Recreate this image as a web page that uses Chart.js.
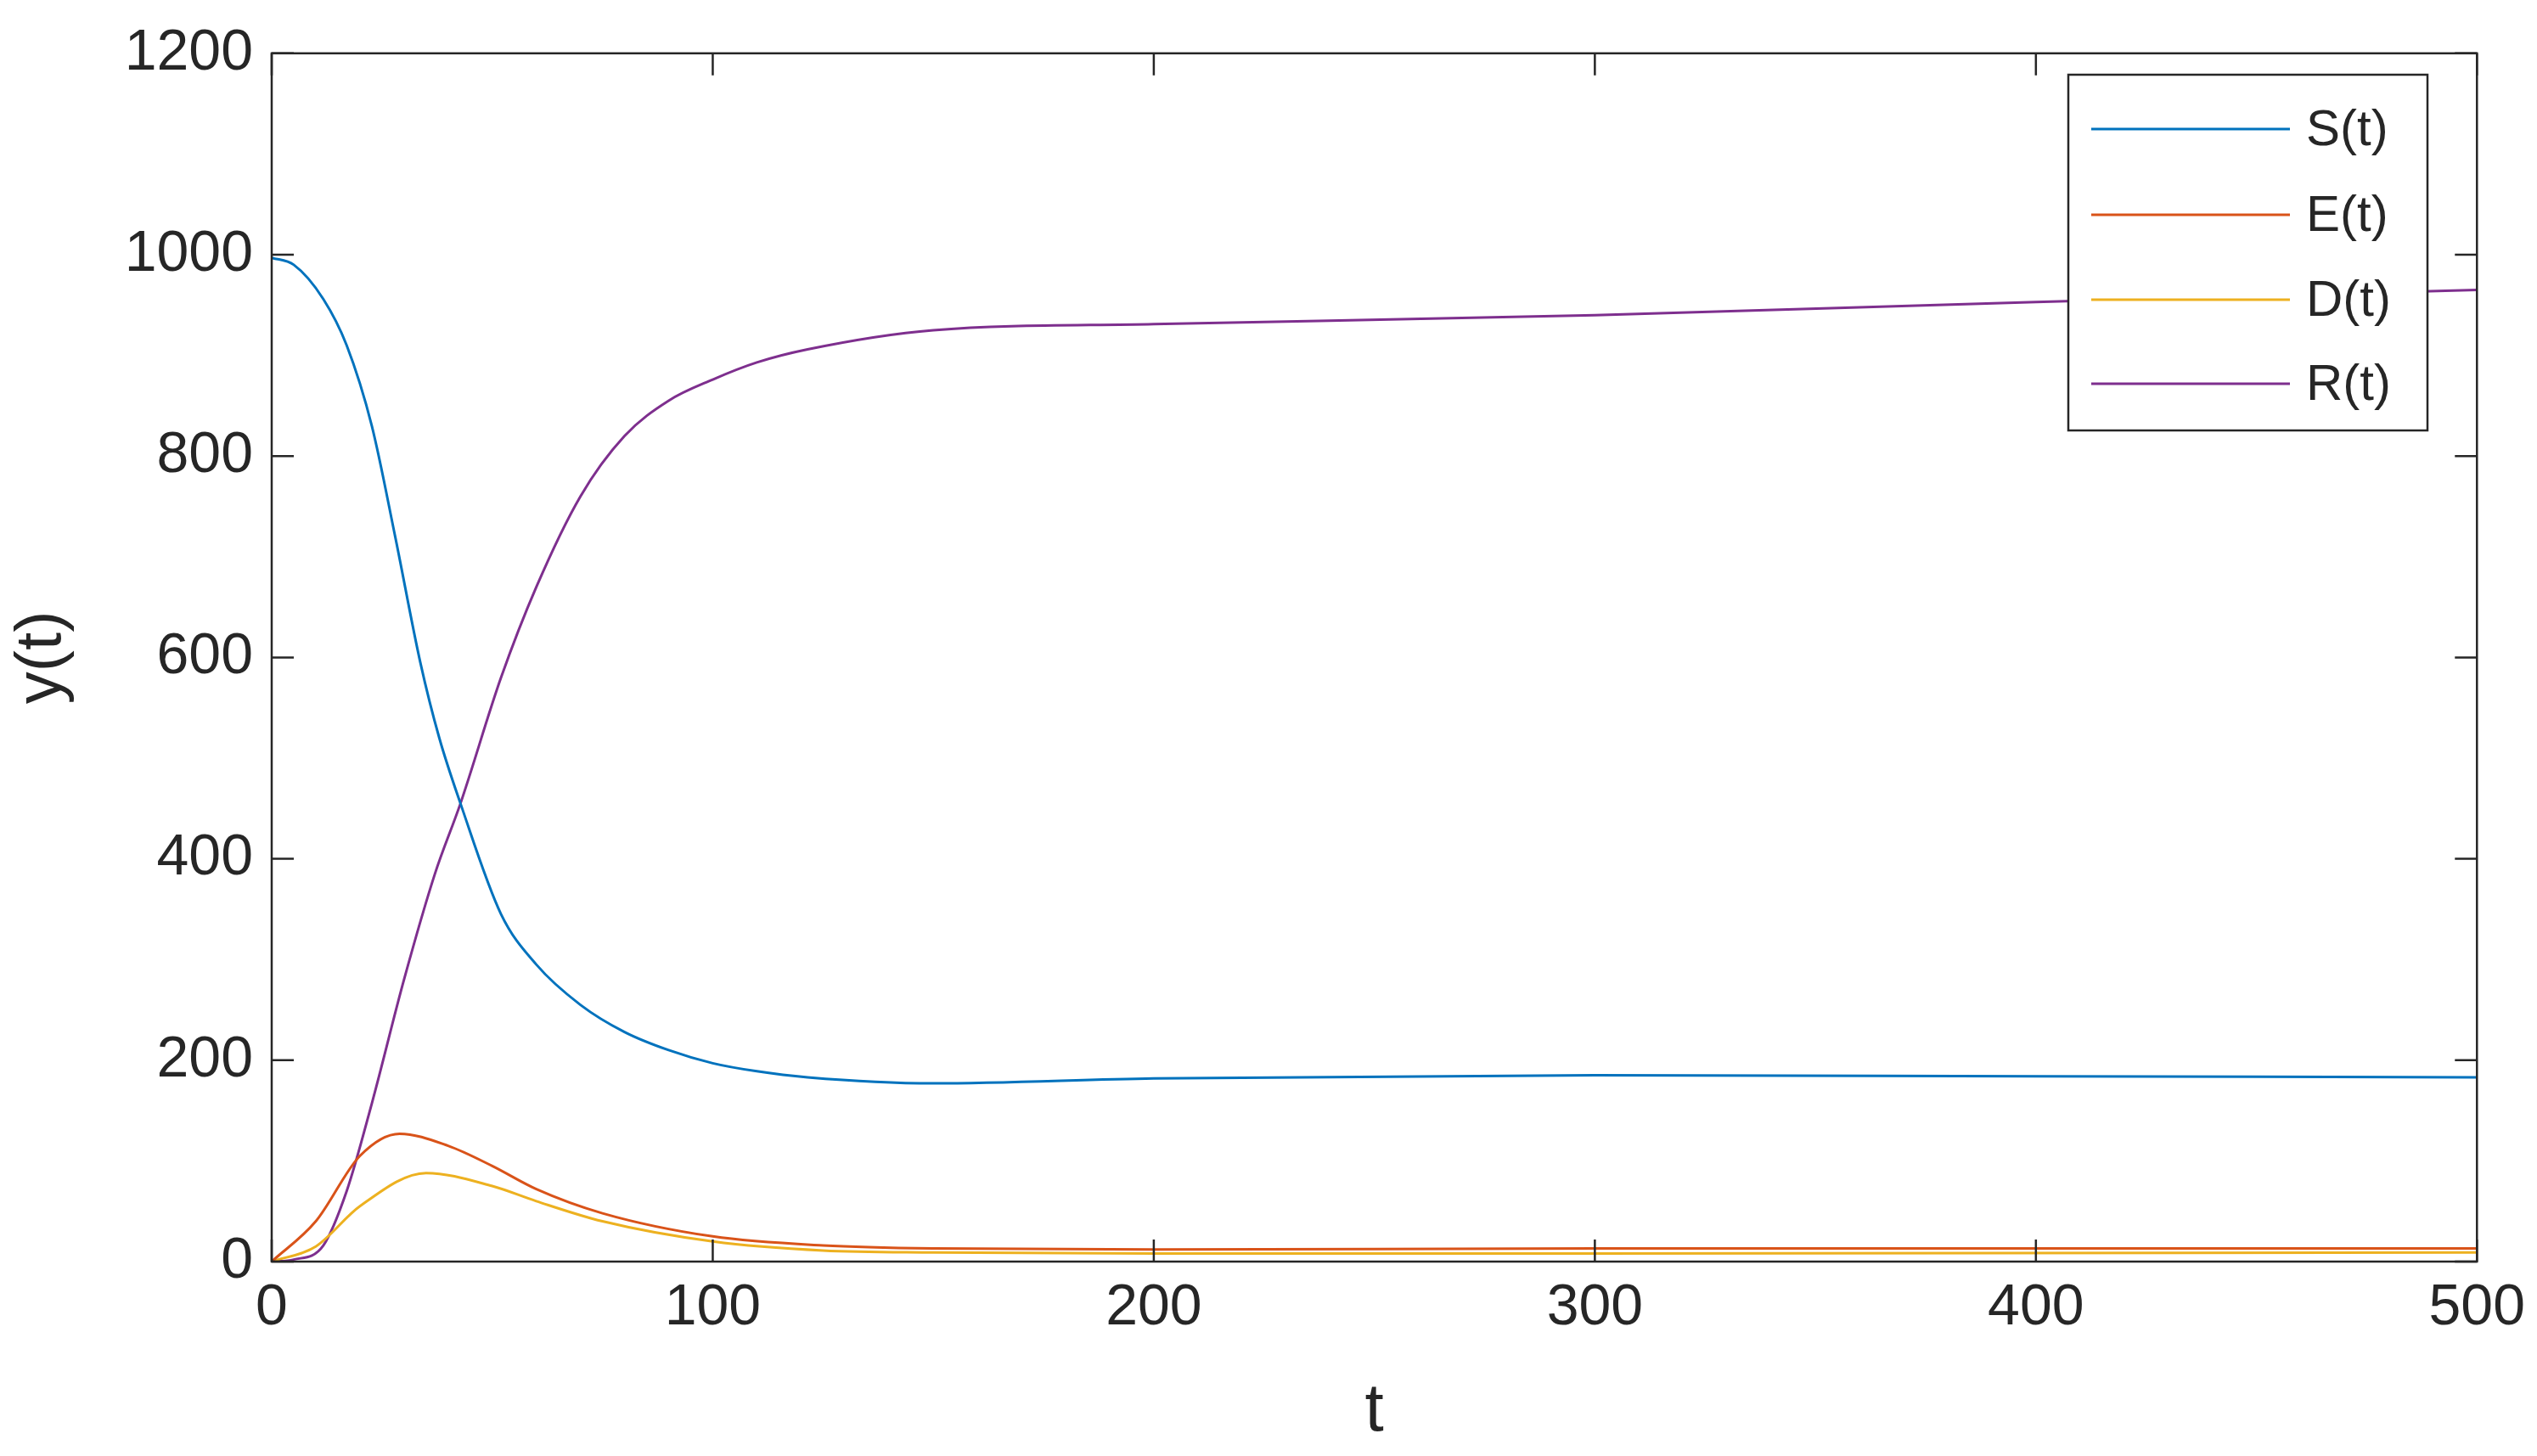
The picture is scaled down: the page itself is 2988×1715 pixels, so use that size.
<!DOCTYPE html>
<html>
<head>
<meta charset="utf-8">
<script src="https://cdn.jsdelivr.net/npm/chart.js@4/dist/chart.umd.min.js"></script>
<style>
  body { margin: 0; background: #fff; }
  #wrap { width: 2988px; height: 1715px; }
</style>
</head>
<body>
<div id="wrap"><canvas id="canvas"></canvas></div>
<script>
// SEDR model curves
var tS = [0, 5, 11.7, 17, 22.7, 28, 33.7, 38, 42.8, 52, 60, 70, 80, 90, 100, 110, 121.5, 150, 200, 300, 400, 500];
var S  = [997, 990, 956, 910, 830, 720, 595, 520, 455, 345, 295, 255, 228, 210, 197, 189, 183, 177, 182, 185, 184, 183];

var tR = [0, 5, 11.7, 17, 22.7, 30, 37, 42.8, 52, 60, 70, 80, 90, 100, 110, 121.5, 150, 200, 300, 400, 500];
var R  = [0, 2, 16, 70, 157, 280, 385, 455, 580, 670, 760, 820, 855, 876, 893, 906, 925, 931, 940, 953, 965];

var tE = [0, 10, 20, 29, 40, 50, 60, 75, 100, 125, 150, 200, 300, 500];
var E  = [0, 40, 105, 127, 115, 95, 72, 48, 25, 16, 13, 12, 13, 13];

var tD = [0, 10, 20, 35, 50, 60, 75, 100, 125, 150, 200, 300, 500];
var D  = [0, 15, 55, 88, 75, 60, 40, 20, 11, 9, 8, 8, 9];

var xTicks = [0, 100, 200, 300, 400, 500];
var yTicks = [0, 200, 400, 600, 800, 1000, 1200];

function pts(t, v) { return t.map(function (x, i) { return { x: x, y: v[i] }; }); }

var FONT = '"Liberation Sans", Arial, sans-serif';

// box, inward ticks on all sides, legend inside the plot
var framePlugin = {
  id: 'frame',
  afterDraw: function (chart) {
    var c = chart.ctx, a = chart.chartArea;
    var xs = chart.scales.x, ys = chart.scales.y;
    c.save();
    c.strokeStyle = '#262626';
    c.lineWidth = 2.5;
    c.strokeRect(a.left, a.top, a.right - a.left, a.bottom - a.top);
    var L = 26;
    xTicks.forEach(function (v) {
      var p = xs.getPixelForValue(v);
      c.beginPath(); c.moveTo(p, a.bottom); c.lineTo(p, a.bottom - L);
      c.moveTo(p, a.top); c.lineTo(p, a.top + L); c.stroke();
    });
    yTicks.forEach(function (v) {
      var p = ys.getPixelForValue(v);
      c.beginPath(); c.moveTo(a.left, p); c.lineTo(a.left + L, p);
      c.moveTo(a.right, p); c.lineTo(a.right - L, p); c.stroke();
    });
    // legend
    var bx = 2436, by = 88, bw = 423, bh = 419;
    c.fillStyle = '#fff';
    c.fillRect(bx, by, bw, bh);
    c.strokeStyle = '#262626';
    c.strokeRect(bx, by, bw, bh);
    var rows = [152, 253, 353, 452];
    c.font = '60px ' + FONT;
    c.textBaseline = 'middle';
    chart.data.datasets.forEach(function (ds, i) {
      c.strokeStyle = ds.borderColor;
      c.lineWidth = 3;
      c.beginPath(); c.moveTo(2463, rows[i]); c.lineTo(2697, rows[i]); c.stroke();
      c.fillStyle = '#262626';
      c.fillText(ds.label, 2716, rows[i] + 2);
    });
    c.restore();
  }
};

new Chart(document.getElementById('canvas'), {
  type: 'line',
  data: {
    datasets: [
      { label: 'S(t)', data: pts(tS, S), borderColor: '#0072BD' },
      { label: 'E(t)', data: pts(tE, E), borderColor: '#D95319' },
      { label: 'D(t)', data: pts(tD, D), borderColor: '#EDB120' },
      { label: 'R(t)', data: pts(tR, R), borderColor: '#7E2F8E' }
    ]
  },
  options: {
    responsive: true,
    maintainAspectRatio: false,
    animation: false,
    devicePixelRatio: 1,
    elements: {
      point: { radius: 0 },
      line: { borderWidth: 3, cubicInterpolationMode: 'monotone', fill: false }
    },
    layout: { padding: { top: 0, right: 56, left: 0, bottom: 0 } },
    plugins: { legend: { display: false }, tooltip: { enabled: false } },
    scales: {
      x: {
        type: 'linear', min: 0, max: 500,
        afterBuildTicks: function (s) { s.ticks = xTicks.map(function (v) { return { value: v }; }); },
        afterFit: function (s) { s.height = 229; },
        grid: { display: false, drawTicks: false },
        border: { display: false },
        ticks: { color: '#262626', font: { family: FONT, size: 68 }, padding: 14, maxRotation: 0,
                 callback: function (v) { return String(v); } },
        title: { display: true, text: 't', color: '#262626', font: { family: FONT, size: 80 }, padding: { top: 0 } }
      },
      y: {
        type: 'linear', min: 0, max: 1200,
        afterBuildTicks: function (s) { s.ticks = yTicks.map(function (v) { return { value: v }; }); },
        afterFit: function (s) { s.width = 320; },
        grid: { display: false, drawTicks: false },
        border: { display: false },
        ticks: { color: '#262626', font: { family: FONT, size: 68 }, padding: 22,
                 callback: function (v) { return String(v); } },
        title: { display: true, text: 'y(t)', color: '#262626', font: { family: FONT, size: 76 }, padding: { bottom: 0 } }
      }
    }
  },
  plugins: [framePlugin]
});
</script>
</body>
</html>
